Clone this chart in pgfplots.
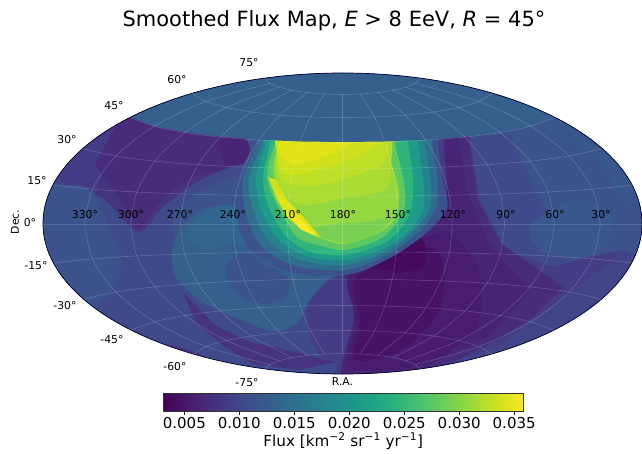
\documentclass[border=0pt]{standalone}
\usepackage{pgfplots}
\pgfplotsset{compat=1.18}
\usepackage{fontspec}
\setmainfont{DejaVu Sans}
\definecolor{v03}{HTML}{450A5C}\definecolor{v05}{HTML}{471365}\definecolor{v08}{HTML}{481D6F}
\definecolor{v10}{HTML}{482475}\definecolor{v13}{HTML}{472C7A}\definecolor{v15}{HTML}{463480}
\definecolor{v18}{HTML}{443C84}\definecolor{v20}{HTML}{414487}\definecolor{v22}{HTML}{3E4A89}
\definecolor{v25}{HTML}{3B528B}\definecolor{v27}{HTML}{39578C}\definecolor{v30}{HTML}{355F8D}
\definecolor{v33}{HTML}{31678E}\definecolor{v35}{HTML}{2F6C8E}\definecolor{v38}{HTML}{2C738E}
\definecolor{v45}{HTML}{25848E}\definecolor{v55}{HTML}{1E9C89}\definecolor{v65}{HTML}{2FB47C}
\definecolor{v75}{HTML}{5EC962}\definecolor{v80}{HTML}{7AD151}
\definecolor{v85}{HTML}{94D840}\definecolor{v88}{HTML}{AADC32}\definecolor{v90}{HTML}{BDDF26}\definecolor{v93}{HTML}{CFE11C}
\definecolor{v97}{HTML}{DFE318}\definecolor{v100}{HTML}{FDE725}
\newcommand\poly[2]{\addplot[fill=#1,draw=none,forget plot] coordinates {#2} --cycle;}
\newcommand\blob[2]{\addplot[fill=#1,draw=none,forget plot,smooth cycle,tension=0.5] coordinates {#2};}
\pgfplotsset{gl/.style={draw=white,draw opacity=0.2,line width=0.55pt,smooth,tension=0.5,forget plot}}
\newcommand\gridaxis[1]{%
\begin{axis}[at={(43pt,78.5pt)},anchor=south west,scale only axis,width=599pt,height=301pt,hide axis,clip=false,xmin=-1,xmax=1,ymin=-1,ymax=1,#1]
% parallels (dec 15,30,45,60,75), RA 0..180
\addplot[gl] coordinates {(0,.1846)(.1798,.1861)(.3564,.1910)(.5265,.1995)(.6869,.2125)(.8345,.2315)(.9659,.2588)};
\addplot[gl] coordinates {(0,.3660)(.1654,.3689)(.3273,.3780)(.4823,.3938)(.6265,.4177)(.7561,.4520)(.8660,.5)};
\addplot[gl] coordinates {(0,.5412)(.1411,.5451)(.2785,.5569)(.4082,.5774)(.5263,.6077)(.6279,.6501)(.7071,.7071)};
\addplot[gl] coordinates {(0,.7071)(.1063,.7111)(.2088,.7234)(.3039,.7443)(.3873,.7746)(.4545,.8149)(.5,.8660)};
\addplot[gl] coordinates {(0,.8608)(.0599,.8639)(.1170,.8731)(.1682,.8880)(.2109,.9089)(.2420,.9351)(.2588,.9659)};
% meridians (30,60,...,150), dec 0..75
\addplot[gl] coordinates {(.1846,0)(.1798,.1861)(.1654,.3689)(.1411,.5451)(.1063,.7111)(.0599,.8639)};
\addplot[gl] coordinates {(.3660,0)(.3564,.1910)(.3273,.3780)(.2785,.5569)(.2088,.7234)(.1170,.8731)};
\addplot[gl] coordinates {(.5412,0)(.5265,.1995)(.4823,.3938)(.4082,.5774)(.3039,.7443)(.1682,.8880)};
\addplot[gl] coordinates {(.7071,0)(.6869,.2125)(.6265,.4177)(.5263,.6077)(.3873,.7746)(.2109,.9089)};
\addplot[gl] coordinates {(.8608,0)(.8345,.2315)(.7561,.4520)(.6279,.6501)(.4545,.8149)(.2420,.9351)};
\end{axis}}
\newcommand\lab[3]{\node[font=\fontsize{10.8}{12}\selectfont,text=black] at (#1pt,{(453-#2)*1pt}) {#3};}
\begin{document}
\begin{tikzpicture}
\path[use as bounding box] (0,0) rectangle (642pt,453pt);
\begin{scope}
\clip (342.5pt,229.5pt) ellipse [x radius=299.5pt,y radius=150.5pt];
\begin{axis}[at={(0pt,0pt)},anchor=south west,scale only axis,width=642pt,height=453pt,hide axis,xmin=0,xmax=642,ymin=0,ymax=453,y dir=reverse]
\poly{v15}{(0,60)(642,60)(642,400)(0,400)}
% left side
\poly{v18}{(30,190)(100,120)(130,120)(105,160)(95,195)}
\poly{v13}{(120,117)(270,135)(262,165)(230,168)(190,178)(165,195)(150,215)(138,230)(118,195)(95,165)}
\poly{v10}{(215,135)(262,135)(255,165)(225,165)}
\blob{v22}{(35,182)(75,188)(105,200)(138,232)(165,205)(205,178)(255,165)(300,215)(345,290)(350,340)(330,375)(260,385)(190,350)(100,330)(20,290)}
\blob{v25}{(20,185)(50,187)(78,185)(95,195)(108,225)(122,262)(105,300)(60,300)(15,260)}
\blob{v25}{(172,225)(195,195)(240,180)(250,250)(245,300)(195,300)}
\poly{v15}{(183,292)(215,325)(250,342)(300,353)(335,362)(300,370)(253,364)(225,347)(195,322)}
\blob{v18}{(305,285)(345,270)(354,305)(350,335)(338,358)(322,358)(310,335)}
% lower lobe
\blob{v30}{(183,225)(172,250)(176,277)(200,300)(233,317)(273,331)(297,323)(310,300)(328,280)(345,268)(320,225)(260,205)(210,207)}
\blob{v25}{(225,270)(245,252)(262,262)(290,280)(280,302)(245,300)}
\blob{v33}{(185,232)(205,250)(230,245)(262,250)(300,268)(330,272)(300,235)(250,210)(212,208)}
% right side
\poly{v18}{(420,135)(650,105)(660,280)(610,262)(560,300)(500,345)(450,365)(400,380)(335,380)(345,270)}
\poly{v20}{(640,232)(660,250)(660,390)(400,390)(450,365)(500,345)(560,300)(610,262)}
\poly{v25}{(470,135)(650,100)(660,265)(625,250)(587,257)(553,267)(507,250)(480,200)}
\poly{v22}{(470,135)(510,135)(535,190)(555,230)(590,252)(553,267)(507,250)(480,200)}
\poly{v27}{(535,120)(650,100)(650,200)(628,205)(598,160)(560,135)}
\blob{v27}{(530,225)(575,200)(612,215)(605,245)(570,258)(540,250)}
\poly{v13}{(443,135)(468,135)(478,200)(500,243)(520,257)(563,287)(533,317)(497,340)(457,360)(420,372)(340,376)(345,353)(353,323)(353,297)(343,272)(420,237)(440,220)(447,190)}
\poly{v10}{(445,138)(458,138)(468,195)(490,245)(530,290)(490,335)(450,355)(420,372)(340,376)(345,353)(353,323)(353,297)(343,272)(420,237)(440,220)(447,190)}
\blob{v08}{(350,275)(420,240)(452,235)(480,275)(475,330)(420,365)(350,368)(356,320)}
\blob{v05}{(355,280)(410,248)(440,255)(440,310)(400,350)(355,360)(360,320)}
\blob{v03}{(370,264)(420,238)(424,266)(400,272)}
% blob layers
\blob{v25}{(250,110)(250,150)(236,180)(236,215)(250,250)(290,272)(347,275)(390,258)(425,234)(447,208)(442,177)(438,142)(438,110)}
\blob{v35}{(258,110)(258,142)(243,177)(245,210)(260,245)(295,266)(345,270)(385,256)(417,234)(436,208)(437,177)(432,142)(432,110)}
\blob{v45}{(263,110)(263,142)(249,177)(253,210)(268,240)(300,260)(345,265)(385,252)(412,232)(430,208)(430,177)(425,142)(425,110)}
\blob{v55}{(266,110)(266,142)(256,177)(261,210)(277,238)(305,256)(345,260)(380,250)(405,235)(423,210)(423,177)(418,142)(418,110)}
\blob{v65}{(270,110)(270,142)(263,177)(268,205)(285,235)(310,252)(345,255)(380,245)(398,232)(411,210)(413,177)(408,142)(408,110)}
\blob{v75}{(275,110)(275,142)(268,165)(270,190)(295,235)(318,245)(345,250)(378,240)(395,225)(405,205)(403,177)(395,142)(395,110)}
\blob{v85}{(283,110)(283,142)(274,160)(275,180)(285,208)(300,228)(320,238)(345,244)(380,232)(396,217)(399,190)(392,165)(383,142)(383,110)}
\blob{v80}{(308,231)(345,243)(380,231)(390,218)(365,222)(335,224)}
\blob{v88}{(285,125)(276,155)(280,185)(300,205)(345,198)(385,190)(391,165)(383,125)}
\blob{v90}{(285,125)(277,155)(284,182)(320,185)(365,172)(386,160)(381,125)}
\blob{v93}{(285,120)(278,155)(288,175)(325,168)(360,155)(378,140)(375,120)}
\blob{v97}{(285,120)(279,150)(292,165)(320,158)(350,145)(352,120)}
% bright streak
\poly{v93}{(268,177)(277,180)(287,200)(303,217)(320,237)(303,230)(288,218)(277,200)}
\poly{v97}{(275,190)(287,200)(303,217)(320,237)(303,230)(288,218)}
\poly{v100}{(287,212)(303,222)(316,236)(300,229)}
% cap
\poly{v30}{(100,60)(585,60)(554,117)(531,126)(500,132)(465,136.6)(426,139.7)(385,141.5)(342.5,142)(300,141.5)(259,139.7)(220,136.6)(185,132)(154,126)(131,117)}
\end{axis}
\end{scope}
\draw[draw=black!80!blue,line width=0.7pt] (342.5pt,229.5pt) ellipse [x radius=299.5pt,y radius=150.5pt];
% grid lines
\begin{axis}[at={(43pt,78.5pt)},anchor=south west,scale only axis,width=599pt,height=301pt,hide axis,clip=false,xmin=-1,xmax=1,ymin=-1,ymax=1]
\addplot[gl] coordinates {(-1,0)(1,0)};
\addplot[gl] coordinates {(0,-.8608)(0,.8608)};
\end{axis}
\gridaxis{}
\gridaxis{x dir=reverse}
\gridaxis{y dir=reverse}
\gridaxis{x dir=reverse,y dir=reverse}
% tick labels
\lab{249}{63}{75°}\lab{177}{80}{60°}\lab{114}{106}{45°}\lab{67}{140}{30°}\lab{37}{181}{15°}\lab{30}{223}{0°}
\lab{36}{266}{-15°}\lab{65}{306}{-30°}\lab{112}{340}{-45°}\lab{175}{367}{-60°}\lab{247}{383}{-75°}
\lab{85}{215}{330°}\lab{131}{215}{300°}\lab{180}{215}{270°}\lab{233}{215}{240°}\lab{288}{215}{210°}\lab{343}{215}{180°}
\lab{398}{215}{150°}\lab{453}{215}{120°}\lab{506}{215}{90°}\lab{555}{215}{60°}\lab{601}{215}{30°}
\lab{342.5}{382}{R.A.}
\node[font=\fontsize{10.8}{12}\selectfont,text=black,rotate=90] at (15pt,{(453-222)*1pt}) {Dec.};
\node[font=\fontsize{21}{24}\selectfont] at (334pt,{(453-21)*1pt}) {Smoothed Flux Map, \textit{E} > 8 EeV, \textit{R} = 45°};
% colorbar
\begin{axis}[at={(163pt,41.3pt)},anchor=south west,scale only axis,width=360.5pt,height=18.4pt,
  xmin=0.00306,xmax=0.03585,ymin=0,ymax=1,ytick=\empty,view={0}{90},
  xtick={0.005,0.010,0.015,0.020,0.025,0.030,0.035},
  scaled x ticks=false,
  xticklabel style={/pgf/number format/fixed,/pgf/number format/fixed zerofill,/pgf/number format/precision=3,/pgf/number format/assume math mode=true,font=\fontsize{15}{17}\selectfont,yshift=1pt},
  tick style={black,line width=0.6pt},major tick length=3.5pt,tick align=outside,xtick pos=bottom,
  axis line style={line width=0.6pt,black!80},
  xlabel={Flux [km\textsuperscript{−2} sr\textsuperscript{−1} yr\textsuperscript{−1}]},
  xlabel style={font=\fontsize{15.2}{17}\selectfont,yshift=3pt},
  colormap/viridis,point meta min=0.00306,point meta max=0.03585,axis on top]
\addplot3[surf,shader=interp,point meta=x,mesh/rows=2,forget plot] coordinates {
(0.00306,0,0)(0.03585,0,0)

(0.00306,1,0)(0.03585,1,0)};
\end{axis}
\end{tikzpicture}
\end{document}
